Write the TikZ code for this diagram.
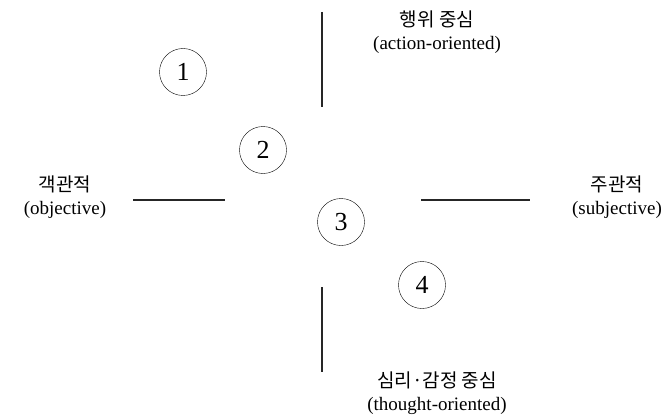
\documentclass[tikz,border=0pt]{standalone}
\usepackage{fontspec}
\setmainfont{Liberation Serif}
\newfontfamily\kor{Noto Sans CJK KR}
\usepackage{tikz}

\tikzset{
  num/.style={draw, circle, thin, minimum size=47pt, inner sep=0pt, font=\fontsize{26}{30}\selectfont},
  lbl/.style={align=center, font=\fontsize{19}{23}\selectfont},
  axis/.style={line width=1.4pt, black!85}
}

\begin{document}
\begin{tikzpicture}[x=1pt, y=-1pt]
\useasboundingbox (0,0) rectangle (668,417);

% Axes (split around the middle)
\draw[axis] (322,12) -- (322,107);
\draw[axis] (322,287) -- (322,372);
\draw[axis] (133,200) -- (225,200);
\draw[axis] (421,200) -- (530,200);

% Pole labels
\node[lbl] (top) at (437,32) {{\kor 행위 중심}\\(action-oriented)};
\node[lbl] (left) at (65,197) {{\kor 객관적}\\(objective)};
\node[lbl] (right) at (617,197) {{\kor 주관적}\\(subjective)};
\node[lbl] (bottom) at (437,393) {{\kor 심리·감정 중심}\\(thought-oriented)};

% Numbered positions
\node[num] (n1) at (183,72) {1};
\node[num] (n2) at (263,150) {2};
\node[num] (n3) at (341,222) {3};
\node[num] (n4) at (422,285) {4};

\end{tikzpicture}
\end{document}
